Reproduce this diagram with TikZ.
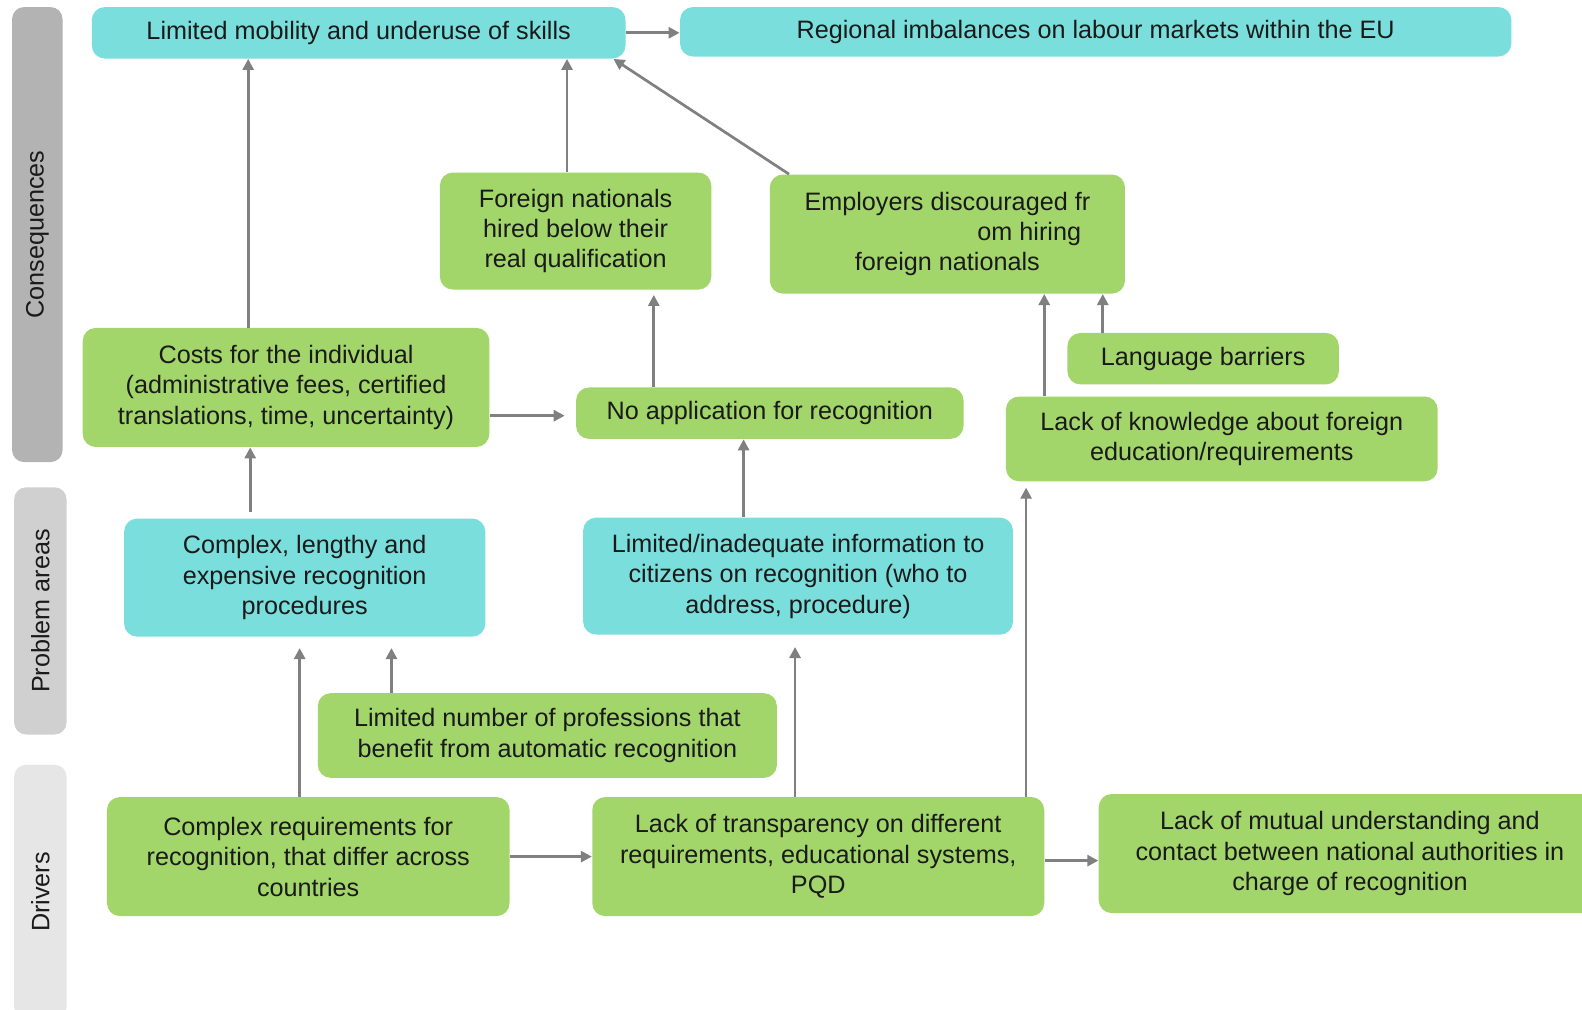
\documentclass[tikz,border=0pt]{standalone}
\usepackage{fontspec}
\setmainfont{Liberation Sans}
\usepackage{xcolor}
\usepackage{tikz}
\usetikzlibrary{shapes,arrows,positioning,calc,arrows.meta}

\definecolor{boxgreen}{RGB}{163,214,106}
\definecolor{boxcyan}{RGB}{122,223,220}
\definecolor{arrgray}{RGB}{128,128,128}
\definecolor{laneA}{RGB}{179,179,179}
\definecolor{laneB}{RGB}{208,208,208}
\definecolor{laneC}{RGB}{230,230,230}
\definecolor{txt}{RGB}{26,26,26}
\newcommand{\boxfont}{\fontsize{12.6}{15.2}\selectfont}

\tikzset{
  gbox/.style={fill=boxgreen, rounded corners=6.5pt, inner sep=0pt, align=center, text=txt, font=\boxfont},
  cbox/.style={gbox, fill=boxcyan},
  sz/.style 2 args={minimum width=#1*0.5045pt, minimum height=#2*0.5045pt},
  lane/.style={rounded corners=6pt, inner sep=0pt, rotate=90, text=txt, font=\boxfont},
  arr/.style={draw=arrgray, line width=1.35pt, -{Triangle[length=5.5pt,width=5.5pt]}}
}

\begin{document}
\begin{tikzpicture}[x=0.5045pt, y=-0.5045pt]
    \clip (0,0) rectangle (1568,1001);
    \fill[white] (0,0) rectangle (1568,1001);
    % lanes
    \node[lane, fill=laneA, sz={451}{50}] (lcons) at (37,232.5) {Consequences};
    \node[lane, fill=laneB, sz={245}{52}] (lprob) at (40,605.5) {Problem areas};
    \node[lane, fill=laneC, sz={252}{52}] (ldriv) at (40,884) {Drivers};
    % consequences
    \node[cbox, sz={529}{51}] (mob) at (355.5,32.5) {Limited mobility and underuse of skills};
    \node[cbox, sz={824}{49}] (reg) at (1086,31.5) {Regional imbalances on labour markets within the EU};
    \node[gbox, sz={269}{116}] (fnat) at (570.5,229) {Foreign nationals\\hired below their\\real qualification};
    \node[gbox, sz={352}{118}] (emp) at (939,232) {Employers discouraged fr\\\hspace*{6.5em}om hiring\\foreign nationals};
    \node[gbox, sz={403}{118}] (costs) at (283.5,384) {Costs for the individual\\(administrative fees, certified\\translations, time, uncertainty)};
    \node[gbox, sz={384}{51}] (noapp) at (763,409.5) {No application for recognition};
    \node[gbox, sz={269}{51}] (lang) at (1192.5,355.5) {Language barriers};
    \node[gbox, sz={428}{84}] (know) at (1211,435) {Lack of knowledge about foreign\\education/requirements};
    % problem areas
    \node[cbox, sz={358}{117}] (cplx) at (302,572.5) {Complex, lengthy and\\expensive recognition\\procedures};
    \node[cbox, sz={426}{116}] (info) at (791,571) {Limited/inadequate information to\\citizens on recognition (who to\\address, procedure)};
    % drivers
    \node[gbox, sz={455}{84}] (nprof) at (542.5,729) {Limited number of professions that\\benefit from automatic recognition};
    \node[gbox, sz={399}{118}] (creq) at (305.5,849) {Complex requirements for\\recognition, that differ across\\countries};
    \node[gbox, sz={448}{118}] (transp) at (811,849) {Lack of transparency on different\\requirements, educational systems,\\PQD};
    \node[gbox, sz={498}{118}] (mutual) at (1338,846) {Lack of mutual understanding and\\contact between national authorities in\\charge of recognition};

    \draw[arr] (mob.east) -- (mob.east -| reg.west);
    \draw[arr] (costs.north -| 246,0) -- (mob.south -| 246,0);
    \draw[arr] (fnat.north -| 562,0) -- (mob.south -| 562,0);
    \draw[arr] (emp.north -| 782,0) -- (mob.south -| 608,0);
    \draw[arr, shorten >=2.5pt] (noapp.north -| 648,0) -- (fnat.south -| 648,0);
    \draw[arr] (know.north -| 1035,0) -- (emp.south -| 1035,0);
    \draw[arr] (lang.north -| 1093,0) -- (emp.south -| 1093,0);
    \draw[arr, shorten >=5.5pt] (costs.east |- 0,412) -- (noapp.west |- 0,412);
    \draw[arr, shorten <=3pt] (cplx.north -| 248,0) -- (costs.south -| 248,0);
    \draw[arr] (info.north -| 737,0) -- (noapp.south -| 737,0);
    \draw[arr, shorten >=3pt] (transp.north -| 1017,0) -- (know.south -| 1017,0);
    \draw[arr, shorten >=5.5pt] (creq.north -| 297,0) -- (cplx.south -| 297,0);
    \draw[arr, shorten >=5.5pt] (nprof.north -| 388,0) -- (cplx.south -| 388,0);
    \draw[arr, shorten >=6pt] (transp.north -| 788,0) -- (info.south -| 788,0);
    \draw[arr] (creq.east) -- (transp.west);
    \draw[arr] (transp.east |- 0,853) -- (mutual.west |- 0,853);
\end{tikzpicture}
\end{document}
